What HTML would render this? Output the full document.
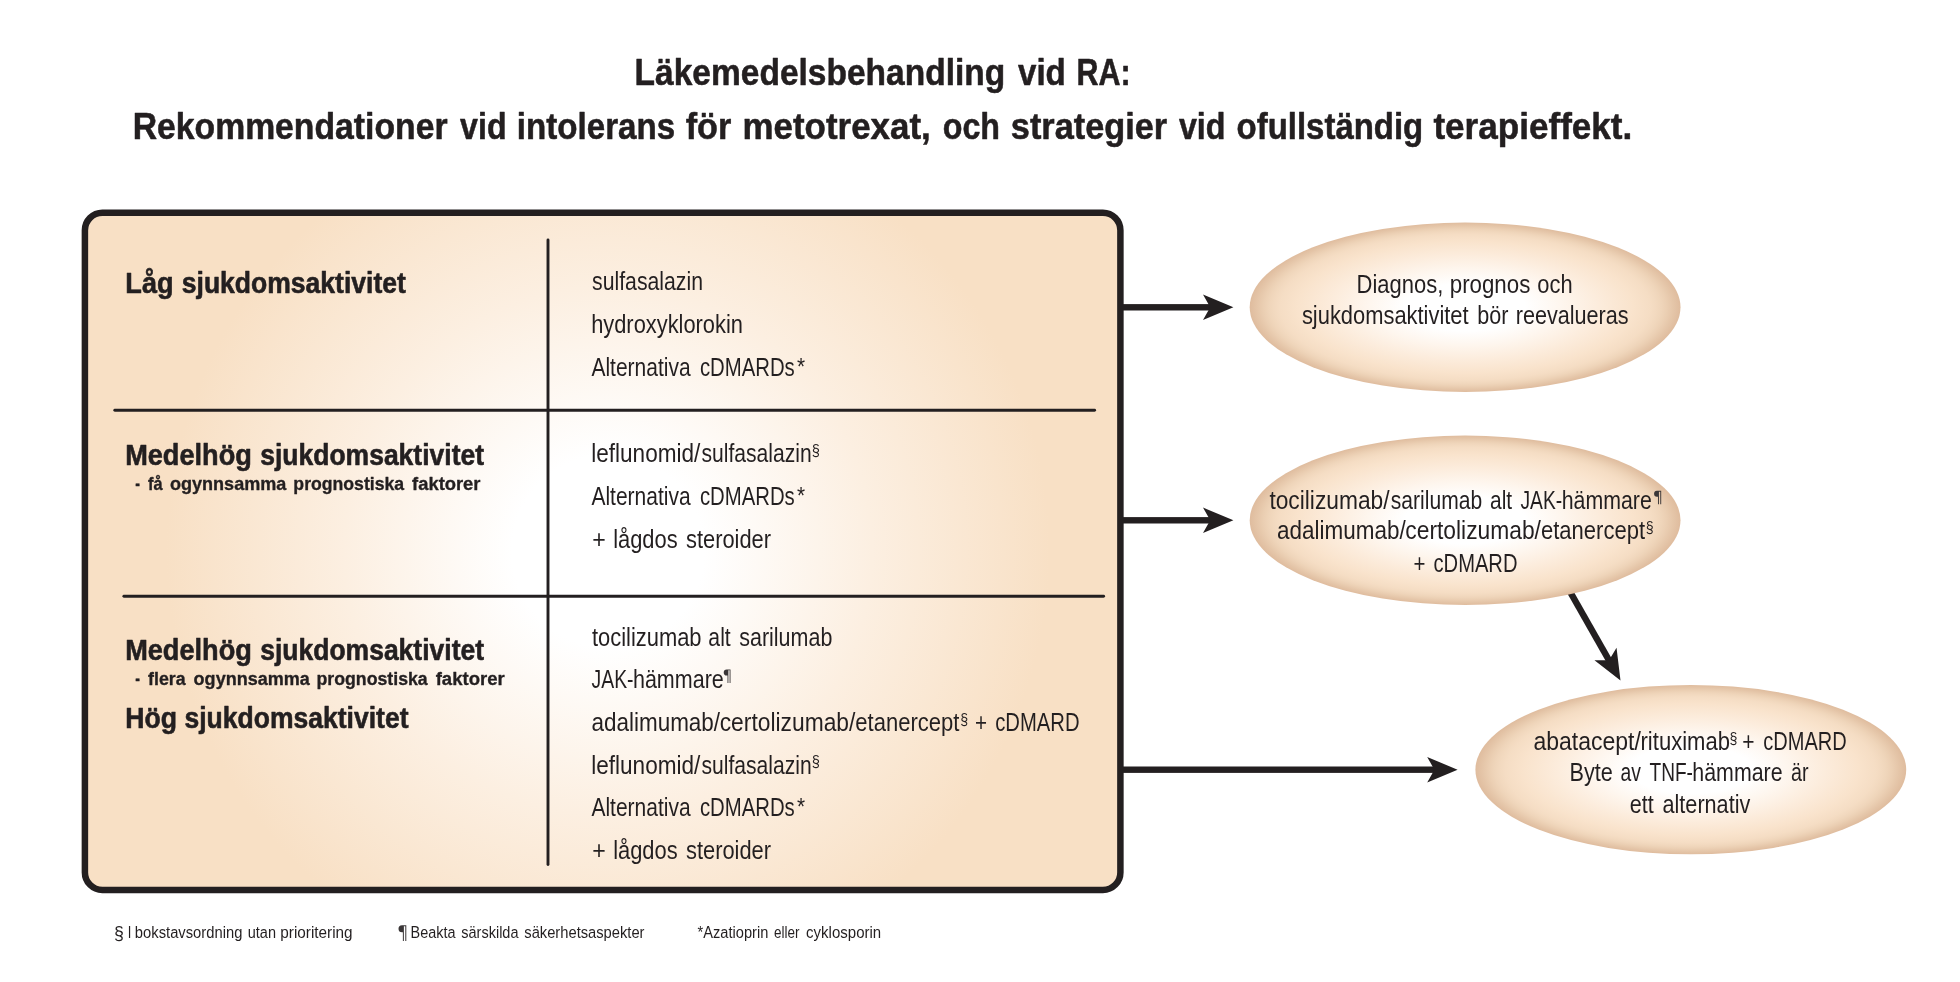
<!DOCTYPE html>
<html lang="sv">
<head>
<meta charset="utf-8">
<title>Läkemedelsbehandling vid RA</title>
<style>
html,body{margin:0;padding:0;background:#fff;}
body{width:1960px;height:982px;overflow:hidden;font-family:"Liberation Sans",sans-serif;}
svg{display:block;position:absolute;left:0;top:0;will-change:transform;}
svg text{font-family:"Liberation Sans",sans-serif;fill:#231F20;white-space:pre;}
</style>
</head>
<body>
<svg width="1960" height="982" viewBox="0 0 1960 982">
<defs>
<radialGradient id="gbox" gradientUnits="userSpaceOnUse" cx="608" cy="551" r="480">
<stop offset="0" stop-color="#ffffff"/>
<stop offset="0.2" stop-color="#ffffff"/>
<stop offset="0.55" stop-color="#fcefe1"/>
<stop offset="0.92" stop-color="#f8e0c5"/>
<stop offset="1" stop-color="#f8e0c5"/>
</radialGradient>
<radialGradient id="gell" cx="0.5" cy="0.5" r="0.5">
<stop offset="0" stop-color="#ffffff"/>
<stop offset="0.28" stop-color="#ffffff"/>
<stop offset="0.45" stop-color="#fef6ee"/>
<stop offset="0.62" stop-color="#fcecdc"/>
<stop offset="0.78" stop-color="#f9e3cc"/>
<stop offset="0.86" stop-color="#f5ddc4"/>
<stop offset="0.888" stop-color="#f2d9bf"/>
<stop offset="0.911" stop-color="#efd5ba"/>
<stop offset="0.935" stop-color="#ebcfb3"/>
<stop offset="0.965" stop-color="#e5c6a9"/>
<stop offset="1" stop-color="#dfbc9e"/>
</radialGradient>
</defs>
<!-- main box -->
<rect x="84.9" y="212.75" width="1035.5" height="677.15" rx="17.5" ry="17.5" fill="url(#gbox)" stroke="#231F20" stroke-width="6.5"/>
<!-- dividers -->
<g stroke="#231F20" stroke-width="2.9" stroke-linecap="round" fill="none">
<line x1="548" y1="240" x2="548" y2="864.6"/>
<line x1="114.8" y1="410.3" x2="1094.6" y2="410.3"/>
<line x1="123.9" y1="596.2" x2="1103.6" y2="596.2"/>
</g>
<!-- arrows -->
<g fill="#231F20" stroke="none">
<rect x="1122" y="304.1" width="90" height="6.4"/>
<path d="M1233.4 307.3 L1203 294.6 L1210.2 307.3 L1203 320 Z"/>
<rect x="1122" y="517.1" width="90" height="6.4"/>
<path d="M1233.4 520.3 L1203 507.6 L1210.2 520.3 L1203 533 Z"/>
<rect x="1122" y="766.5" width="314" height="6.4"/>
<path d="M1457.6 769.7 L1427.2 757 L1434.4 769.7 L1427.2 782.4 Z"/>
<g transform="translate(1620.5 680.5) rotate(60.4)">
<rect x="-108" y="-3.2" width="86" height="6.4"/>
<path d="M0 0 L-30.4 -12.7 L-23.2 0 L-30.4 12.7 Z"/>
</g>
</g>
<!-- ellipses -->
<ellipse cx="1465.1" cy="307.25" rx="215.4" ry="84.7" fill="url(#gell)"/>
<ellipse cx="1465.1" cy="520.25" rx="215.4" ry="84.7" fill="url(#gell)"/>
<ellipse cx="1690.8" cy="769.65" rx="215.4" ry="84.7" fill="url(#gell)"/>

<g id="labels">
<text transform="translate(634.59 85.30) scale(0.9061 1)" font-size="37" font-weight="700" stroke="#231F20" stroke-width="0.55" stroke-linejoin="round">Läkemedelsbehandling</text>
<text transform="translate(1018.00 85.30) scale(0.8948 1)" font-size="37" font-weight="700" stroke="#231F20" stroke-width="0.55" stroke-linejoin="round">vid</text>
<text transform="translate(1076.55 85.30) scale(0.8240 1)" font-size="37" font-weight="700" stroke="#231F20" stroke-width="0.55" stroke-linejoin="round">RA:</text>
<text transform="translate(132.68 138.60) scale(0.9119 1)" font-size="37" font-weight="700" stroke="#231F20" stroke-width="0.55" stroke-linejoin="round">Rekommendationer</text>
<text transform="translate(460.10 138.60) scale(0.8697 1)" font-size="37" font-weight="700" stroke="#231F20" stroke-width="0.55" stroke-linejoin="round">vid</text>
<text transform="translate(516.81 138.60) scale(0.8959 1)" font-size="37" font-weight="700" stroke="#231F20" stroke-width="0.55" stroke-linejoin="round">intolerans</text>
<text transform="translate(685.70 138.60) scale(0.9239 1)" font-size="37" font-weight="700" stroke="#231F20" stroke-width="0.55" stroke-linejoin="round">för</text>
<text transform="translate(742.51 138.60) scale(0.9438 1)" font-size="37" font-weight="700" stroke="#231F20" stroke-width="0.55" stroke-linejoin="round">metotrexat,</text>
<text transform="translate(942.73 138.60) scale(0.8705 1)" font-size="37" font-weight="700" stroke="#231F20" stroke-width="0.55" stroke-linejoin="round">och</text>
<text transform="translate(1010.87 138.60) scale(0.9274 1)" font-size="37" font-weight="700" stroke="#231F20" stroke-width="0.55" stroke-linejoin="round">strategier</text>
<text transform="translate(1178.90 138.60) scale(0.8716 1)" font-size="37" font-weight="700" stroke="#231F20" stroke-width="0.55" stroke-linejoin="round">vid</text>
<text transform="translate(1236.61 138.60) scale(0.8906 1)" font-size="37" font-weight="700" stroke="#231F20" stroke-width="0.55" stroke-linejoin="round">ofullständig</text>
<text transform="translate(1433.40 138.60) scale(0.9486 1)" font-size="37" font-weight="700" stroke="#231F20" stroke-width="0.55" stroke-linejoin="round">terapieffekt.</text>
<text transform="translate(125.36 293.40) scale(0.9357 1)" font-size="29" font-weight="700" stroke="#231F20" stroke-width="0.6" stroke-linejoin="round">Låg</text>
<text transform="translate(181.78 293.40) scale(0.9152 1)" font-size="29" font-weight="700" stroke="#231F20" stroke-width="0.6" stroke-linejoin="round">sjukdomsaktivitet</text>
<text transform="translate(125.16 465.40) scale(0.9366 1)" font-size="29" font-weight="700" stroke="#231F20" stroke-width="0.6" stroke-linejoin="round">Medelhög</text>
<text transform="translate(260.19 465.40) scale(0.9144 1)" font-size="29" font-weight="700" stroke="#231F20" stroke-width="0.6" stroke-linejoin="round">sjukdomsaktivitet</text>
<text transform="translate(135.30 490.00) scale(0.7500 1)" font-size="19" font-weight="700" stroke="#231F20" stroke-width="0.35" stroke-linejoin="round">-</text>
<text transform="translate(148.10 490.00) scale(0.8657 1)" font-size="19" font-weight="700" stroke="#231F20" stroke-width="0.35" stroke-linejoin="round">få</text>
<text transform="translate(170.00 490.00) scale(0.9503 1)" font-size="19" font-weight="700" stroke="#231F20" stroke-width="0.35" stroke-linejoin="round">ogynnsamma</text>
<text transform="translate(293.37 490.00) scale(0.9290 1)" font-size="19" font-weight="700" stroke="#231F20" stroke-width="0.35" stroke-linejoin="round">prognostiska</text>
<text transform="translate(412.10 490.00) scale(0.9670 1)" font-size="19" font-weight="700" stroke="#231F20" stroke-width="0.35" stroke-linejoin="round">faktorer</text>
<text transform="translate(125.16 659.60) scale(0.9366 1)" font-size="29" font-weight="700" stroke="#231F20" stroke-width="0.6" stroke-linejoin="round">Medelhög</text>
<text transform="translate(260.19 659.60) scale(0.9144 1)" font-size="29" font-weight="700" stroke="#231F20" stroke-width="0.6" stroke-linejoin="round">sjukdomsaktivitet</text>
<text transform="translate(135.30 684.70) scale(0.7500 1)" font-size="19" font-weight="700" stroke="#231F20" stroke-width="0.35" stroke-linejoin="round">-</text>
<text transform="translate(148.10 684.70) scale(0.9367 1)" font-size="19" font-weight="700" stroke="#231F20" stroke-width="0.35" stroke-linejoin="round">flera</text>
<text transform="translate(193.60 684.70) scale(0.9495 1)" font-size="19" font-weight="700" stroke="#231F20" stroke-width="0.35" stroke-linejoin="round">ogynnsamma</text>
<text transform="translate(316.47 684.70) scale(0.9332 1)" font-size="19" font-weight="700" stroke="#231F20" stroke-width="0.35" stroke-linejoin="round">prognostiska</text>
<text transform="translate(435.70 684.70) scale(0.9754 1)" font-size="19" font-weight="700" stroke="#231F20" stroke-width="0.35" stroke-linejoin="round">faktorer</text>
<text transform="translate(125.18 727.80) scale(0.9188 1)" font-size="29" font-weight="700" stroke="#231F20" stroke-width="0.6" stroke-linejoin="round">Hög</text>
<text transform="translate(184.49 727.80) scale(0.9148 1)" font-size="29" font-weight="700" stroke="#231F20" stroke-width="0.6" stroke-linejoin="round">sjukdomsaktivitet</text>
<text transform="translate(592.10 289.80) scale(0.8390 1)" font-size="25.3" fill="#2c2829">sulfasalazin</text>
<text transform="translate(591.14 332.90) scale(0.8643 1)" font-size="25.3" fill="#2c2829">hydroxyklorokin</text>
<text transform="translate(591.40 376.00) scale(0.8302 1)" font-size="25.3" fill="#2c2829">Alternativa</text>
<text transform="translate(699.90 376.00) scale(0.8041 1)" font-size="25.3" fill="#2c2829">cDMARDs</text>
<text transform="translate(797.10 374.78) scale(0.8925 1)" font-size="23.25" fill="#2c2829">*</text>
<text transform="translate(591.21 462.40) scale(0.8920 1)" font-size="25.3" fill="#2c2829">leflunomid/</text>
<text transform="translate(701.50 462.40) scale(0.8344 1)" font-size="25.3" fill="#2c2829">sulfasalazin</text>
<text transform="translate(811.87 456.11) scale(0.8969 1)" font-size="16.35" fill="#3d393a">§</text>
<text transform="translate(591.40 505.30) scale(0.8302 1)" font-size="25.3" fill="#2c2829">Alternativa</text>
<text transform="translate(699.90 505.30) scale(0.8041 1)" font-size="25.3" fill="#2c2829">cDMARDs</text>
<text transform="translate(797.10 504.08) scale(0.8925 1)" font-size="23.25" fill="#2c2829">*</text>
<text transform="translate(592.18 548.10) scale(0.9154 1)" font-size="25.3" fill="#2c2829">+</text>
<text transform="translate(613.13 548.10) scale(0.8656 1)" font-size="25.3" fill="#2c2829">lågdos</text>
<text transform="translate(686.00 548.10) scale(0.8643 1)" font-size="25.3" fill="#2c2829">steroider</text>
<text transform="translate(591.90 645.60) scale(0.8672 1)" font-size="25.3" fill="#2c2829">tocilizumab</text>
<text transform="translate(708.36 645.60) scale(0.8369 1)" font-size="25.3" fill="#2c2829">alt</text>
<text transform="translate(739.20 645.60) scale(0.8500 1)" font-size="25.3" fill="#2c2829">sarilumab</text>
<text transform="translate(591.60 688.30) scale(0.7648 1)" font-size="25.3" fill="#2c2829">JAK-</text>
<text transform="translate(632.95 688.30) scale(0.8504 1)" font-size="25.3" fill="#2c2829">hämmare</text>
<path d="M730.50 669.40H726.78A3.08 3.08 0 0 0 726.78 675.56H727.51V683.10H728.39V670.28H729.62V683.10H730.50Z" fill="#3a3637"/>
<text transform="translate(591.51 730.80) scale(0.8881 1)" font-size="25.3" fill="#2c2829">adalimumab/</text>
<text transform="translate(719.70 730.80) scale(0.9022 1)" font-size="25.3" fill="#2c2829">certolizumab/</text>
<text transform="translate(855.33 730.80) scale(0.8708 1)" font-size="25.3" fill="#2c2829">etanercept</text>
<text transform="translate(975.08 730.80) scale(0.8154 1)" font-size="25.3" fill="#2c2829">+</text>
<text transform="translate(995.20 730.80) scale(0.8000 1)" font-size="25.3" fill="#2c2829">cDMARD</text>
<text transform="translate(960.29 724.51) scale(0.8697 1)" font-size="16.35" fill="#3d393a">§</text>
<text transform="translate(591.21 773.60) scale(0.8920 1)" font-size="25.3" fill="#2c2829">leflunomid/</text>
<text transform="translate(701.50 773.60) scale(0.8344 1)" font-size="25.3" fill="#2c2829">sulfasalazin</text>
<text transform="translate(811.87 767.31) scale(0.8969 1)" font-size="16.35" fill="#3d393a">§</text>
<text transform="translate(591.40 816.30) scale(0.8302 1)" font-size="25.3" fill="#2c2829">Alternativa</text>
<text transform="translate(699.90 816.30) scale(0.8041 1)" font-size="25.3" fill="#2c2829">cDMARDs</text>
<text transform="translate(797.10 815.07) scale(0.8925 1)" font-size="23.25" fill="#2c2829">*</text>
<text transform="translate(592.18 858.80) scale(0.9154 1)" font-size="25.3" fill="#2c2829">+</text>
<text transform="translate(613.13 858.80) scale(0.8656 1)" font-size="25.3" fill="#2c2829">lågdos</text>
<text transform="translate(686.00 858.80) scale(0.8643 1)" font-size="25.3" fill="#2c2829">steroider</text>
<text transform="translate(1356.56 292.70) scale(0.8684 1)" font-size="25.3" fill="#2c2829">Diagnos,</text>
<text transform="translate(1449.72 292.70) scale(0.8823 1)" font-size="25.3" fill="#2c2829">prognos</text>
<text transform="translate(1537.33 292.70) scale(0.8652 1)" font-size="25.3" fill="#2c2829">och</text>
<text transform="translate(1301.90 323.90) scale(0.8656 1)" font-size="25.3" fill="#2c2829">sjukdomsaktivitet</text>
<text transform="translate(1477.35 323.90) scale(0.8538 1)" font-size="25.3" fill="#2c2829">bör</text>
<text transform="translate(1515.75 323.90) scale(0.8542 1)" font-size="25.3" fill="#2c2829">reevalueras</text>
<text transform="translate(1269.40 508.70) scale(0.9001 1)" font-size="25.3" fill="#2c2829">tocilizumab/</text>
<text transform="translate(1390.80 508.70) scale(0.8334 1)" font-size="25.3" fill="#2c2829">sarilumab</text>
<text transform="translate(1489.97 508.70) scale(0.8291 1)" font-size="25.3" fill="#2c2829">alt</text>
<text transform="translate(1520.50 508.70) scale(0.7611 1)" font-size="25.3" fill="#2c2829">JAK-</text>
<text transform="translate(1561.66 508.70) scale(0.8437 1)" font-size="25.3" fill="#2c2829">hämmare</text>
<path d="M1661.20 490.70H1656.94A3.04 3.04 0 0 0 1656.94 496.77H1657.99V504.20H1658.94V491.65H1660.25V504.20H1661.20Z" fill="#3a3637"/>
<text transform="translate(1277.11 539.40) scale(0.8881 1)" font-size="25.3" fill="#2c2829">adalimumab/</text>
<text transform="translate(1405.30 539.40) scale(0.9022 1)" font-size="25.3" fill="#2c2829">certolizumab/</text>
<text transform="translate(1540.93 539.40) scale(0.8708 1)" font-size="25.3" fill="#2c2829">etanercept</text>
<text transform="translate(1645.69 533.11) scale(0.8697 1)" font-size="16.35" fill="#3d393a">§</text>
<text transform="translate(1413.39 571.60) scale(0.8077 1)" font-size="25.3" fill="#2c2829">+</text>
<text transform="translate(1433.50 571.60) scale(0.7971 1)" font-size="25.3" fill="#2c2829">cDMARD</text>
<text transform="translate(1533.39 750.30) scale(0.9101 1)" font-size="25.3" fill="#2c2829">abatacept/</text>
<text transform="translate(1640.53 750.30) scale(0.8722 1)" font-size="25.3" fill="#2c2829">rituximab</text>
<text transform="translate(1742.17 750.30) scale(0.8308 1)" font-size="25.3" fill="#2c2829">+</text>
<text transform="translate(1763.31 750.30) scale(0.7923 1)" font-size="25.3" fill="#2c2829">cDMARD</text>
<text transform="translate(1729.49 744.01) scale(0.8697 1)" font-size="16.35" fill="#3d393a">§</text>
<text transform="translate(1569.59 780.60) scale(0.8559 1)" font-size="25.3" fill="#2c2829">Byte</text>
<text transform="translate(1620.54 780.60) scale(0.7634 1)" font-size="25.3" fill="#2c2829">av</text>
<text transform="translate(1649.50 780.60) scale(0.7538 1)" font-size="25.3" fill="#2c2829">TNF-</text>
<text transform="translate(1692.35 780.60) scale(0.8456 1)" font-size="25.3" fill="#2c2829">hämmare</text>
<text transform="translate(1791.12 780.60) scale(0.7784 1)" font-size="25.3" fill="#2c2829">är</text>
<text transform="translate(1629.85 813.20) scale(0.8525 1)" font-size="25.3" fill="#2c2829">ett</text>
<text transform="translate(1662.55 813.20) scale(0.8549 1)" font-size="25.3" fill="#2c2829">alternativ</text>
<text transform="translate(114.01 938.55) scale(0.9625 1)" font-size="18.47" fill="#3a3637">§</text>
<text transform="translate(127.65 938.00) scale(0.7500 1)" font-size="17.3" fill="#3a3637">I</text>
<text transform="translate(134.85 938.00) scale(0.8540 1)" font-size="17.3" fill="#3a3637">bokstavsordning</text>
<text transform="translate(247.76 938.00) scale(0.8400 1)" font-size="17.3" fill="#3a3637">utan</text>
<text transform="translate(280.32 938.00) scale(0.8847 1)" font-size="17.3" fill="#3a3637">prioritering</text>
<path d="M406.30 925.20H402.06A3.55 3.55 0 0 0 402.06 932.31H402.87V941.00H403.88V926.21H405.29V941.00H406.30Z" fill="#3a3637"/>
<text transform="translate(410.57 938.00) scale(0.8347 1)" font-size="17.3" fill="#3a3637">Beakta</text>
<text transform="translate(461.30 938.00) scale(0.8385 1)" font-size="17.3" fill="#3a3637">särskilda</text>
<text transform="translate(524.30 938.00) scale(0.8512 1)" font-size="17.3" fill="#3a3637">säkerhetsaspekter</text>
<text transform="translate(697.60 938.00) scale(0.8462 1)" font-size="17.3" fill="#3a3637">*Azatioprin</text>
<text transform="translate(773.90 938.00) scale(0.7811 1)" font-size="17.3" fill="#3a3637">eller</text>
<text transform="translate(806.10 938.00) scale(0.8680 1)" font-size="17.3" fill="#3a3637">cyklosporin</text>
</g>
</svg>
</body>
</html>
